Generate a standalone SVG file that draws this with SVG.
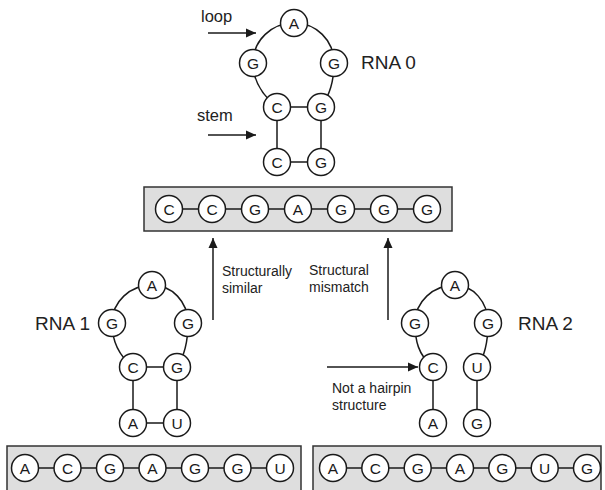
<svg xmlns="http://www.w3.org/2000/svg" width="605" height="490" viewBox="0 0 605 490">
<defs>
<style>
.nc{fill:#fff;stroke:#1a1a1a;stroke-width:1.5}
.nt{font-family:"Liberation Sans",Arial,sans-serif;font-size:15.5px;fill:#1a1a1a;text-anchor:middle;dominant-baseline:central}
.ln{fill:none;stroke:#1a1a1a;stroke-width:1.5}
.box{fill:#dedede;stroke:#333;stroke-width:1.5}
.lbl{font-family:"Liberation Sans",Arial,sans-serif;font-size:14px;fill:#222}
.big{font-family:"Liberation Sans",Arial,sans-serif;font-size:19px;fill:#222}
.mid{font-family:"Liberation Sans",Arial,sans-serif;font-size:16.5px;fill:#222}
.ar{fill:none;stroke:#1a1a1a;stroke-width:1.5}
</style>
<marker id="ah" viewBox="0 0 10 10" refX="10" refY="5" markerWidth="10" markerHeight="10" markerUnits="userSpaceOnUse" orient="auto">
<path d="M0,0.5 L10,5 L0,9.5 z" fill="#1a1a1a"/>
</marker>
<circle id="n" r="13.5" class="nc"/>
</defs>

<g id="connectors">
<!-- RNA 0 -->
<path class="ln" d="M277,107 C262,95 253,80 253,63 C253,40 272,23 294,23 C316,23 334,40 334,63 C334,80 330,95 321,107"/>
<path class="ln" d="M277,107 H321 M277,107 V162 M321,107 V162 M277,162 H321"/>
<!-- RNA 1 -->
<path class="ln" d="M133,367 C118,355 112,340 112,323 C112,302 130,285 152,285 C172,285 188,302 188,323 C188,340 185,355 177,367"/>
<path class="ln" d="M133,367 H177 M133,367 V423 M177,367 V423 M133,423 H177"/>
<!-- RNA 2 -->
<path class="ln" d="M433,367 C418,355 415,340 415,323 C415,302 433,285 455,285 C473,285 488,302 488,323 C488,340 486,355 477,367"/>
<path class="ln" d="M433,367 V423 M477,367 V423"/>
<!-- arrows -->
<line class="ar" x1="208" y1="33" x2="256" y2="33" marker-end="url(#ah)"/>
<line class="ar" x1="208" y1="135" x2="256" y2="135" marker-end="url(#ah)"/>
<line class="ar" x1="213" y1="320" x2="213" y2="238" marker-end="url(#ah)"/>
<line class="ar" x1="388" y1="320" x2="388" y2="238" marker-end="url(#ah)"/>
<line class="ar" x1="327" y1="367" x2="418" y2="367" marker-end="url(#ah)"/>
</g>

<g id="seq0">
<rect class="box" x="144" y="187" width="308" height="44"/>
<line class="ln" x1="169" y1="209" x2="427" y2="209"/>
<use href="#n" x="169" y="209"/><text class="nt" x="169" y="209">C</text>
<use href="#n" x="212" y="209"/><text class="nt" x="212" y="209">C</text>
<use href="#n" x="255" y="209"/><text class="nt" x="255" y="209">G</text>
<use href="#n" x="298" y="209"/><text class="nt" x="298" y="209">A</text>
<use href="#n" x="341" y="209"/><text class="nt" x="341" y="209">G</text>
<use href="#n" x="384" y="209"/><text class="nt" x="384" y="209">G</text>
<use href="#n" x="427" y="209"/><text class="nt" x="427" y="209">G</text>
</g>

<g id="seq1">
<rect class="box" x="7" y="446" width="294" height="48"/>
<line class="ln" x1="25" y1="468" x2="280" y2="468"/>
<use href="#n" x="25" y="468"/><text class="nt" x="25" y="468">A</text>
<use href="#n" x="67.5" y="468"/><text class="nt" x="67.5" y="468">C</text>
<use href="#n" x="110" y="468"/><text class="nt" x="110" y="468">G</text>
<use href="#n" x="152.5" y="468"/><text class="nt" x="152.5" y="468">A</text>
<use href="#n" x="195" y="468"/><text class="nt" x="195" y="468">G</text>
<use href="#n" x="237.5" y="468"/><text class="nt" x="237.5" y="468">G</text>
<use href="#n" x="280" y="468"/><text class="nt" x="280" y="468">U</text>
</g>

<g id="seq2">
<rect class="box" x="313" y="446" width="288" height="48"/>
<line class="ln" x1="333" y1="468" x2="587" y2="468"/>
<use href="#n" x="333" y="468"/><text class="nt" x="333" y="468">A</text>
<use href="#n" x="375.3" y="468"/><text class="nt" x="375.3" y="468">C</text>
<use href="#n" x="417.7" y="468"/><text class="nt" x="417.7" y="468">G</text>
<use href="#n" x="460" y="468"/><text class="nt" x="460" y="468">A</text>
<use href="#n" x="502.3" y="468"/><text class="nt" x="502.3" y="468">G</text>
<use href="#n" x="544.7" y="468"/><text class="nt" x="544.7" y="468">U</text>
<use href="#n" x="587" y="468"/><text class="nt" x="587" y="468">G</text>
</g>

<g id="rna0">
<use href="#n" x="294" y="23"/><text class="nt" x="294" y="23">A</text>
<use href="#n" x="253" y="63"/><text class="nt" x="253" y="63">G</text>
<use href="#n" x="334" y="63"/><text class="nt" x="334" y="63">G</text>
<use href="#n" x="277" y="107"/><text class="nt" x="277" y="107">C</text>
<use href="#n" x="321" y="107"/><text class="nt" x="321" y="107">G</text>
<use href="#n" x="277" y="162"/><text class="nt" x="277" y="162">C</text>
<use href="#n" x="321" y="162"/><text class="nt" x="321" y="162">G</text>
<text class="big" x="361" y="69">RNA 0</text>
</g>

<g id="rna1">
<use href="#n" x="152" y="285"/><text class="nt" x="152" y="285">A</text>
<use href="#n" x="112" y="323"/><text class="nt" x="112" y="323">G</text>
<use href="#n" x="188" y="323"/><text class="nt" x="188" y="323">G</text>
<use href="#n" x="133" y="367"/><text class="nt" x="133" y="367">C</text>
<use href="#n" x="177" y="367"/><text class="nt" x="177" y="367">G</text>
<use href="#n" x="133" y="423"/><text class="nt" x="133" y="423">A</text>
<use href="#n" x="177" y="423"/><text class="nt" x="177" y="423">U</text>
<text class="big" x="90" y="330" text-anchor="end">RNA 1</text>
</g>

<g id="rna2">
<use href="#n" x="455" y="285"/><text class="nt" x="455" y="285">A</text>
<use href="#n" x="415" y="323"/><text class="nt" x="415" y="323">G</text>
<use href="#n" x="488" y="323"/><text class="nt" x="488" y="323">G</text>
<use href="#n" x="433" y="367"/><text class="nt" x="433" y="367">C</text>
<use href="#n" x="477" y="367"/><text class="nt" x="477" y="367">U</text>
<use href="#n" x="433" y="423"/><text class="nt" x="433" y="423">A</text>
<use href="#n" x="477" y="423"/><text class="nt" x="477" y="423">G</text>
<text class="big" x="518" y="330">RNA 2</text>
</g>

<g id="labels">
<text class="mid" x="201" y="22">loop</text>
<text class="mid" x="197" y="121">stem</text>
<text class="lbl" x="222" y="276">Structurally</text>
<text class="lbl" x="222" y="293">similar</text>
<text class="lbl" x="309" y="275">Structural</text>
<text class="lbl" x="309" y="292">mismatch</text>
<text class="lbl" x="332" y="393">Not a hairpin</text>
<text class="lbl" x="332" y="410">structure</text>
</g>
</svg>
